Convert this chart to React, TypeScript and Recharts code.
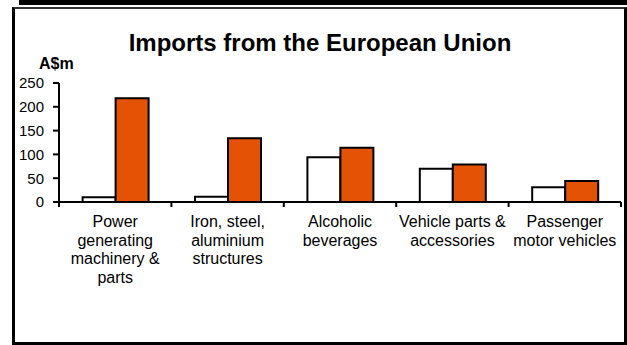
import { BarChart, Bar, XAxis, YAxis } from 'recharts';

const categories = [
  'Power\ngenerating\nmachinery &\nparts',
  'Iron, steel,\naluminium\nstructures',
  'Alcoholic\nbeverages',
  'Vehicle parts &\naccessories',
  'Passenger\nmotor vehicles',
];
const seriesA = [10, 11, 94, 70, 31];
const seriesB = [218, 134, 114, 79, 44];
const yTicks = [0, 50, 100, 150, 200, 250];

const data = categories.map((name, i) => ({ name, a: seriesA[i], b: seriesB[i] }));

const font = 'Arial, "Liberation Sans", sans-serif';

function CategoryTick(props: any) {
  const { x, y, payload, width, visibleTicksCount, index } = props;
  const step = width / visibleTicksCount;
  const lines = String(payload.value).split('\n');
  return (
    <g>
      {index === 0 && <line x1={x - step / 2} x2={x - step / 2} y1={y - 2} y2={y + 3} stroke="#000" strokeWidth={2} />}
      <line x1={x + step / 2} x2={x + step / 2} y1={y - 2} y2={y + 3} stroke="#000" strokeWidth={2} />
      <text x={x} y={y + 23} textAnchor="middle" fontSize={16} fontFamily={font} fill="#000">
        {lines.map((l, i) => (
          <tspan key={i} x={x} dy={i === 0 ? 0 : 18.7}>{l}</tspan>
        ))}
      </text>
    </g>
  );
}

export default function App() {
  return (
    <div style={{ position: 'absolute', left: 0, top: 0, width: 627, height: 345, background: '#fff', fontFamily: font }}>
      <div style={{ position: 'absolute', left: 19, top: 0, width: 608, height: 5, background: '#000' }} />
      <div style={{ position: 'absolute', left: 12, top: 7, width: 609, height: 333, borderLeft: '3px solid #000', borderRight: '3px solid #000', borderBottom: '3px solid #000', borderTop: '2px solid #333' }} />
      <div style={{ position: 'absolute', left: 20, top: 29, width: 600, textAlign: 'center', fontSize: 24, fontWeight: 'bold', color: '#000' }}>
        Imports from the European Union
      </div>
      <div style={{ position: 'absolute', left: 39, top: 55, fontSize: 16, fontWeight: 'bold', color: '#000' }}>A$m</div>
      <div style={{ position: 'absolute', left: 0, top: 0 }}>
        <BarChart width={627} height={345} data={data} margin={{ top: 83, right: 6, bottom: 43, left: 0 }} barGap={0} barCategoryGap="21%">
          <XAxis dataKey="name" height={100} interval={0} tickLine={false} tickSize={0} tickMargin={2} axisLine={{ stroke: '#000', strokeWidth: 2 }} tick={<CategoryTick />} />
          <YAxis
            width={59}
            domain={[0, 250]}
            ticks={yTicks}
            interval={0}
            tickSize={6}
            tickMargin={9}
            tickLine={{ stroke: '#000', strokeWidth: 2 }}
            axisLine={{ stroke: '#000', strokeWidth: 2 }}
            tick={{ fill: '#000', fontSize: 15, fontFamily: font }}
          />
          <Bar dataKey="a" fill="#fff" stroke="#000" strokeWidth={2} isAnimationActive={false} />
          <Bar dataKey="b" fill="#E35205" stroke="#000" strokeWidth={2} isAnimationActive={false} />
        </BarChart>
      </div>
    </div>
  );
}
